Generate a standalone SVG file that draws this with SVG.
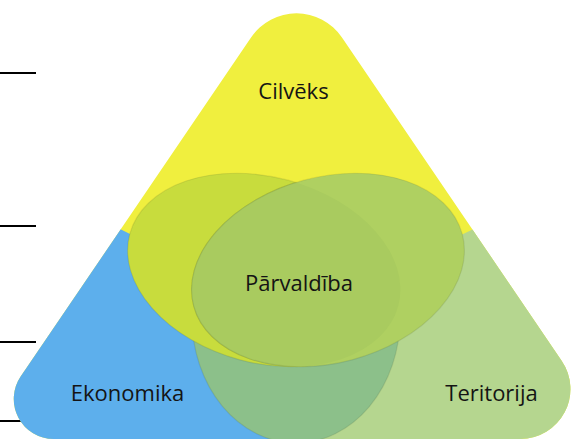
<svg xmlns="http://www.w3.org/2000/svg" width="571" height="441" viewBox="0 0 571 441">
<style>
.lbl{font-family:"Open Sans","Noto Sans","DejaVu Sans",sans-serif;font-size:22px;fill:#141414;text-anchor:middle}
.mark{stroke:#000;stroke-width:2}
.rim{stroke:rgba(60,70,40,0.12);stroke-width:1.2}
</style>
<defs>
<clipPath id="tri"><path d="M 251.2 37.3 A 54.8 54.8 0 0 1 341.8 37.3 L 561.8 360.9 A 50 50 0 0 1 520.5 439 L 53.6 439 A 40 40 0 0 1 20.6 376.6 Z"/></clipPath>
<clipPath id="clipL"><ellipse cx="264" cy="270" rx="139" ry="93" transform="rotate(15 264 270)"/></clipPath>
</defs>
<g id="marks">
<line class="mark" x1="0" y1="73" x2="36" y2="73"/>
<line class="mark" x1="0" y1="226" x2="36" y2="226"/>
<line class="mark" x1="0" y1="342" x2="36" y2="342"/>
<line class="mark" x1="0" y1="421" x2="36" y2="421"/>
</g>
<g clip-path="url(#tri)">
<g id="node-cilveks">
<rect x="0" y="0" width="571" height="441" fill="#F0EF3E"/>
</g>
<g id="node-ekonomika">
<path d="M -30 226 L 114 226 L 132 235 L 200 300 L 298 300 L 298 450 L -30 450 Z" fill="#5DAFEC"/>
</g>
<g id="node-teritorija">
<path d="M 600 226 L 480 226 L 461 235 L 392 300 L 296 300 L 296 450 L 600 450 Z" fill="#B5D68F"/>
</g>
<g id="overlaps">
<ellipse class="rim" cx="296" cy="318" rx="104" ry="125" fill="#8CC08A"/>
<ellipse class="rim" cx="264" cy="270" rx="139" ry="93" transform="rotate(15 264 270)" fill="#C8DC3D"/>
<ellipse class="rim" cx="328" cy="270" rx="139" ry="93" transform="rotate(-15 328 270)" fill="#AFD061"/>
</g>
<g id="node-parvaldiba">
<g clip-path="url(#clipL)">
<ellipse class="rim" cx="328" cy="270" rx="139" ry="93" transform="rotate(-15 328 270)" fill="#A9CB5F"/>
</g>
</g>
</g>
<g id="labels">
<text class="lbl" x="293.5" y="99">Cilvēks</text>
<text class="lbl" x="299" y="291">Pārvaldība</text>
<text class="lbl" x="127.5" y="401">Ekonomika</text>
<text class="lbl" x="491.5" y="401">Teritorija</text>
</g>
</svg>
